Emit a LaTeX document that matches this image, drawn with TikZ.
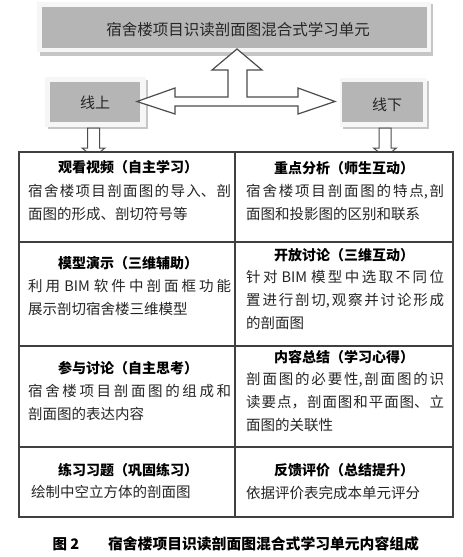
\documentclass[tikz,border=0pt]{standalone}
\usepackage{fontspec}
\setmainfont{Noto Sans CJK SC}
\XeTeXlinebreaklocale "zh"
\XeTeXlinebreakskip=0pt plus 6pt
\newcommand\bodyfnt{\fontsize{14.5}{23}\selectfont}
\newcommand\titlefnt{\fontsize{14}{17}\selectfont\bfseries}
\tikzset{
  shadowbox/.style={fill=gray!45, draw=none},
  framebox/.style={fill=gray!7, draw=none},
  graybox/.style={fill=gray!58, draw=none},
  blockarrow/.style={fill=white, draw=black!70, line width=1.2pt, line join=miter},
  tableline/.style={draw=black!75, line width=1.3pt},
  tableframe/.style={draw=black!75, line width=1.8pt},
  celltitle/.style={anchor=center, inner sep=1pt, font=\titlefnt, text=black},
  cellbody/.style={anchor=north west, inner sep=0pt, text width=#1, align=justify, font=\bodyfnt, text=black!85},
  boxlabel/.style={anchor=center, inner sep=1pt, font=\fontsize{15}{18}\selectfont, text=black!85},
}
\begin{document}
\begin{tikzpicture}[x=1pt,y=-1pt]
\useasboundingbox (0,0) rectangle (463,557);

% top box
\fill[shadowbox] (40,4) rectangle (433,56);
\fill[framebox] (37,2) rectangle (431,52);
\fill[graybox] (42,7) rectangle (427,48);
\node[boxlabel, font=\fontsize{15.5}{18}\selectfont] (top) at (238,30) {宿舍楼项目识读剖面图混合式学习单元};

% left box
\fill[shadowbox] (48,80) rectangle (148,129);
\fill[framebox] (45,77) rectangle (146,127);
\fill[graybox] (50,82) rectangle (140,122);
\node[boxlabel] (online) at (95,103) {线上};

% right box
\fill[shadowbox] (343,81) rectangle (429,129);
\fill[framebox] (340,78) rectangle (427,127);
\fill[graybox] (342,82) rectangle (423,122);
\node[boxlabel] (offline) at (387,105) {线下};

% T-shaped double block arrow
\draw[blockarrow] (237,49) -- (262,70) -- (247,70) -- (247,97) -- (298,97) -- (298,88)
  -- (335,101.5) -- (298,114) -- (298,106) -- (175,106) -- (175,114) -- (137,101.5)
  -- (175,88) -- (175,97) -- (228,97) -- (228,70) -- (212,70) -- cycle;

% small down arrows
\draw[blockarrow, line width=1pt] (87.5,128) -- (99.5,128) -- (99.5,148) -- (105,148) -- (93.5,157)
  -- (82,148) -- (87.5,148) -- cycle;
\draw[blockarrow, line width=1pt] (379,128) -- (391,128) -- (391,148) -- (396.5,148) -- (385,157)
  -- (373.5,148) -- (379,148) -- cycle;

% table
\fill[white] (19,152) rectangle (453,517);
\draw[tableline] (235,152) -- (235,517);
\draw[tableline] (19,242) -- (453,242);
\draw[tableline] (19,346) -- (453,346);
\draw[tableline] (19,447) -- (453,447);
\draw[tableframe] (19,152) rectangle (453,517);

% left column
\node[celltitle] (l1t) at (128,167) {观看视频（自主学习）};
\node[cellbody=203pt] (l1b) at (28,184.5) {宿舍楼项目剖面图的导入、剖\linebreak 面图的形成、剖切符号等};
\node[celltitle] (l2t) at (128,263) {模型演示（三维辅助）};
\node[cellbody=203pt] (l2b) at (28,279.5) {利用 BIM 软件中剖面框功能\linebreak 展示剖切宿舍楼三维模型};
\node[celltitle] (l3t) at (128,368) {参与讨论（自主思考）};
\node[cellbody=203pt] (l3b) at (28,384.5) {宿舍楼项目剖面图的组成和\linebreak 剖面图的表达内容};
\node[celltitle] (l4t) at (128,470) {练习习题（巩固练习）};
\node[cellbody=203pt] (l4b) at (31,485.5) {绘制中空立方体的剖面图};

% right column
\node[celltitle] (r1t) at (344,168) {重点分析（师生互动）};
\node[cellbody=198pt] (r1b) at (246,184.5) {宿舍楼项目剖面图的特点,剖\linebreak 面图和投影图的区别和联系};
\node[celltitle] (r2t) at (344,255) {开放讨论（三维互动）};
\node[cellbody=198pt] (r2b) at (246,270.5) {针对 BIM 模型中选取不同位\linebreak 置进行剖切,观察并讨论形成\linebreak 的剖面图};
\node[celltitle] (r3t) at (344,357) {内容总结（学习心得）};
\node[cellbody=198pt] (r3b) at (246,372.5) {剖面图的必要性,剖面图的识\linebreak 读要点，剖面图和平面图、立\linebreak 面图的关联性};
\node[celltitle] (r4t) at (344,470) {反馈评价（总结提升）};
\node[cellbody=198pt] (r4b) at (246,485.5) {依据评价表完成本单元评分};

% caption
\node[anchor=center, inner sep=1pt, font=\fontsize{14.5}{17}\selectfont\bfseries] (capnum) at (66,544) {图 2};
\node[anchor=center, inner sep=1pt, font=\fontsize{14.8}{17}\selectfont\bfseries] (captext) at (263.5,544) {宿舍楼项目识读剖面图混合式学习单元内容组成};
\end{tikzpicture}
\end{document}
